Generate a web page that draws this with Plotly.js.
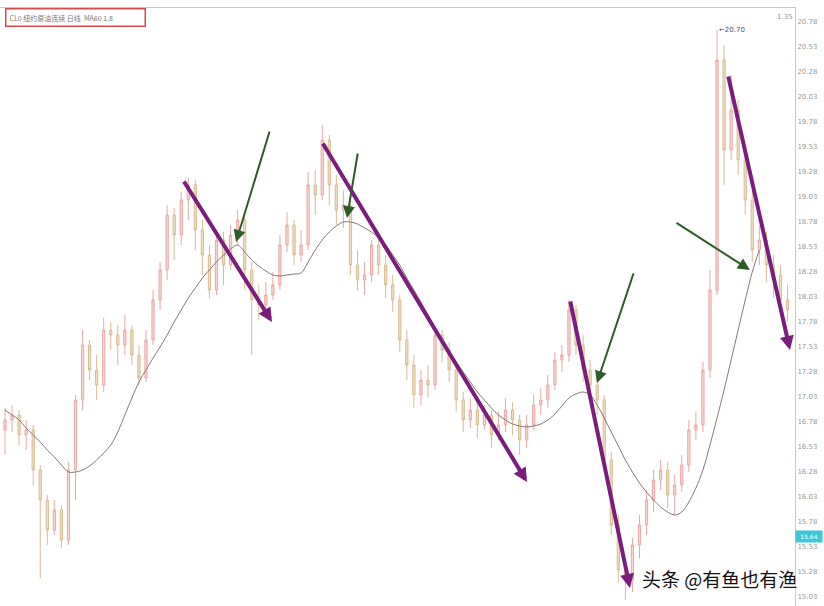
<!DOCTYPE html>
<html>
<head>
<meta charset="utf-8">
<script src="https://cdn.plot.ly/plotly-3.0.1.min.js"></script>
<style>html,body{margin:0;padding:0;background:#fff;}#chart{width:824px;height:606px;}</style>
</head>
<body>
<div id="chart"></div>
<script>
// ---- data ----
const openP = [16.70,16.80,16.85,16.65,16.70,16.30,16.00,15.70,15.90,15.60,
16.30,17.00,17.55,17.30,17.15,17.70,17.65,17.55,17.70,17.45,
17.22,17.60,18.00,18.30,18.85,18.65,19.00,19.15,18.70,18.45,
18.10,18.60,18.35,18.65,18.80,18.30,18.00,17.95,18.05,18.15,
18.55,18.75,18.45,18.55,19.15,19.05,19.60,19.15,18.90,18.95,
18.35,18.20,18.25,18.55,18.35,18.15,18.00,17.60,17.35,17.05,
17.20,17.15,17.65,17.50,17.30,17.00,16.80,16.90,16.75,16.85,
16.65,16.75,16.90,16.80,16.60,16.75,16.95,17.00,17.15,17.40,
17.45,17.90,17.55,17.30,17.15,17.00,16.40,15.75,15.30,15.20,
15.55,15.75,16.00,16.20,16.30,16.05,16.15,16.35,16.70,16.75,
17.30,18.10,20.40,19.50,19.90,19.40,19.00,18.50,18.60,18.35,
18.25,18.00];
const highP = [16.92,16.95,16.90,16.80,16.75,16.35,16.05,16.00,15.95,16.38,
17.05,17.70,17.60,17.45,17.82,17.78,17.75,17.85,17.75,17.55,
17.70,18.10,18.38,18.95,18.92,19.08,19.22,19.20,18.80,18.55,
18.70,18.68,18.75,18.90,18.85,18.38,18.15,18.18,18.28,18.65,
18.88,18.80,18.70,19.28,19.30,19.75,19.65,19.25,19.10,19.00,
18.50,18.38,18.60,18.62,18.45,18.25,18.05,17.70,17.45,17.30,
17.35,17.72,17.70,17.58,17.35,17.08,17.02,16.98,16.95,16.90,
16.88,17.02,16.98,16.85,16.85,17.05,17.12,17.25,17.48,17.55,
18.00,17.95,17.65,17.40,17.25,17.05,16.48,15.85,15.40,15.62,
15.85,16.10,16.30,16.40,16.38,16.25,16.45,16.80,16.88,17.38,
18.30,20.70,20.55,20.25,20.00,19.50,19.10,18.75,18.68,18.45,
18.35,18.15];
const lowP = [16.45,16.68,16.55,16.50,16.15,15.22,15.55,15.65,15.52,15.55,
16.00,16.90,17.20,17.00,17.08,17.50,17.35,17.45,17.35,17.15,
17.18,17.55,17.90,18.20,18.40,18.55,18.80,18.50,18.25,18.02,
18.05,18.15,18.30,18.55,18.10,17.45,17.80,17.88,18.00,18.10,
18.48,18.35,18.38,18.50,18.85,19.00,18.95,18.75,18.72,18.25,
18.10,18.05,18.18,18.25,18.02,17.88,17.48,17.20,16.92,16.95,
17.02,17.10,17.38,17.18,16.88,16.68,16.72,16.62,16.70,16.52,
16.60,16.68,16.65,16.45,16.52,16.70,16.85,16.92,17.10,17.28,
17.38,17.45,17.18,17.02,16.85,16.30,15.65,15.18,15.00,15.08,
15.42,15.65,15.88,16.10,15.92,15.85,16.08,16.28,16.60,16.68,
17.22,18.05,19.15,19.40,19.25,18.85,18.38,18.35,18.18,18.02,
17.85,17.78];
const closeP = [16.80,16.85,16.65,16.70,16.30,16.00,15.70,15.90,15.60,16.30,
17.00,17.55,17.30,17.15,17.70,17.65,17.55,17.70,17.45,17.22,
17.60,18.00,18.30,18.85,18.65,19.00,19.15,18.70,18.45,18.10,
18.60,18.35,18.65,18.80,18.30,18.00,17.95,18.05,18.15,18.55,
18.75,18.45,18.55,19.15,19.05,19.60,19.15,18.90,18.95,18.35,
18.20,18.25,18.55,18.35,18.15,18.00,17.60,17.35,17.05,17.20,
17.15,17.65,17.50,17.30,17.00,16.80,16.90,16.75,16.85,16.65,
16.75,16.90,16.80,16.60,16.75,16.95,17.00,17.15,17.40,17.45,
17.90,17.55,17.30,17.15,17.00,16.40,15.75,15.30,15.20,15.55,
15.75,16.00,16.20,16.30,16.05,16.15,16.35,16.70,16.75,17.30,
18.10,20.40,19.50,19.90,19.40,19.00,18.50,18.60,18.35,18.25,
18.00,17.90];
const maLine = [16.90,16.85,16.80,16.72,16.65,16.58,16.50,16.43,16.35,16.28,
16.28,16.30,16.34,16.40,16.47,16.55,16.68,16.85,17.02,17.18,
17.30,17.42,17.53,17.65,17.78,17.90,18.02,18.12,18.22,18.30,
18.38,18.45,18.51,18.55,18.48,18.40,18.34,18.29,18.25,18.24,
18.25,18.26,18.27,18.38,18.50,18.60,18.68,18.74,18.78,18.78,
18.76,18.72,18.68,18.62,18.55,18.45,18.35,18.22,18.10,17.98,
17.85,17.72,17.60,17.48,17.38,17.28,17.18,17.08,17.00,16.92,
16.85,16.80,16.76,16.74,16.73,16.74,16.76,16.80,16.86,16.94,
17.02,17.06,17.08,17.05,16.95,16.82,16.68,16.54,16.40,16.28,
16.17,16.08,16.00,15.93,15.88,15.85,15.88,15.98,16.12,16.30,
16.55,16.82,17.10,17.40,17.70,18.00,18.28,18.50,null,null,
null,null];
// trend arrows: [tailBar, tailPrice, headBar, headPrice]
const purpleArrows = [[25.25,19.20,37.87,17.78],[44.96,19.58,74.04,16.18],[80.14,18.00,88.65,15.12],[102.55,20.25,111.35,17.50]];
const greenArrows = [[37.59,19.70,32.77,18.58],[50.07,19.48,48.51,18.82],[89.22,18.28,83.97,17.17],[95.04,18.78,105.67,18.30]];
const titleText = 'CL0 纽约原油连续 日线  MA60 1.8';
const priceTag = 15.64;
const highTag = '←20.70';
const cornerText = '1.35';
const watermark = '头条 @有鱼也有渔';

const bars = openP.map((_, i) => i);

const traces = [
  {
    type: 'candlestick', x: bars, open: openP, high: highP, low: lowP, close: closeP,
    increasing: {line: {color: '#e69a96', width: 1}, fillcolor: '#f5d0cb'},
    decreasing: {line: {color: '#d3b182', width: 1}, fillcolor: '#ebd9b8'},
    opacity: 0.85, whiskerwidth: 0, hoverinfo: 'skip', showlegend: false
  },
  {
    type: 'scatter', mode: 'lines', x: bars, y: maLine,
    line: {color: '#8c7878', width: 1, shape: 'spline'}, connectgaps: false,
    hoverinfo: 'skip', showlegend: false
  }
];

const annotations = [];
purpleArrows.forEach(a => annotations.push({
  x: a[2], y: a[3], ax: a[0], ay: a[1], xref: 'x', yref: 'y', axref: 'x', ayref: 'y',
  text: '', showarrow: true, arrowhead: 2, arrowsize: 0.7, arrowwidth: 4,
  arrowcolor: '#7a1d7c', standoff: 0, startstandoff: 0
}));
greenArrows.forEach(a => annotations.push({
  x: a[2], y: a[3], ax: a[0], ay: a[1], xref: 'x', yref: 'y', axref: 'x', ayref: 'y',
  text: '', showarrow: true, arrowhead: 2, arrowsize: 1.2, arrowwidth: 2,
  arrowcolor: '#2f5a2a', standoff: 0, startstandoff: 0
}));
annotations.push({
  xref: 'paper', yref: 'paper', x: 5/795, y: 1, xanchor: 'left', yanchor: 'top',
  text: titleText, showarrow: false, font: {family: 'Noto Sans CJK SC', size: 7, color: '#777'},
  bordercolor: '#d64a4a', borderwidth: 1.5, borderpad: 3, bgcolor: '#fff', width: 132, align: 'left'
});
annotations.push({
  xref: 'paper', yref: 'paper', x: 1, y: 0.995, xanchor: 'right', yanchor: 'top',
  text: cornerText, showarrow: false, font: {family: 'DejaVu Sans', size: 7, color: '#999'}
});
annotations.push({
  xref: 'x', yref: 'y', x: 101, y: 20.70, xanchor: 'left', yanchor: 'middle',
  text: highTag, showarrow: false, font: {family: 'DejaVu Sans', size: 7, color: '#555'}
});
annotations.push({
  xref: 'paper', yref: 'y', x: 1, y: priceTag, xanchor: 'left', yanchor: 'middle',
  text: priceTag.toFixed(2), showarrow: false, font: {family: 'DejaVu Sans', size: 6, color: '#fff'},
  bgcolor: '#3ec7d8', borderpad: 2, width: 22
});
annotations.push({
  xref: 'paper', yref: 'paper', x: 719/795, y: 28/598, xanchor: 'center', yanchor: 'middle',
  text: watermark, showarrow: false,
  font: {family: 'Noto Sans CJK SC', size: 19, color: '#111', shadow: '1px 1px 2px #fff'}
});

const layout = {
  width: 824, height: 606,
  margin: {l: 0, r: 29, t: 8, b: 0, pad: 0},
  paper_bgcolor: '#fff', plot_bgcolor: '#fff',
  showlegend: false, hovermode: false, boxgap: 0.55,
  xaxis: {range: [-0.709, 112.06], visible: true, showticklabels: false, ticks: '',
          showgrid: false, zeroline: false, showline: true, mirror: 'allticks', linecolor: '#c8c8c8', linewidth: 1,
          rangeslider: {visible: false}, fixedrange: true},
  yaxis: {range: [14.94, 20.92], side: 'right', tick0: 20.28, dtick: 0.25, tickformat: '.2f',
          showgrid: false, zeroline: false, showline: true, linecolor: '#c8c8c8', linewidth: 1,
          ticks: '', tickfont: {family: 'DejaVu Sans', size: 7, color: '#9a9a9a'}, fixedrange: true},
  annotations: annotations
};

Plotly.newPlot('chart', traces, layout, {displayModeBar: false, staticPlot: true});
</script>
</body>
</html>
